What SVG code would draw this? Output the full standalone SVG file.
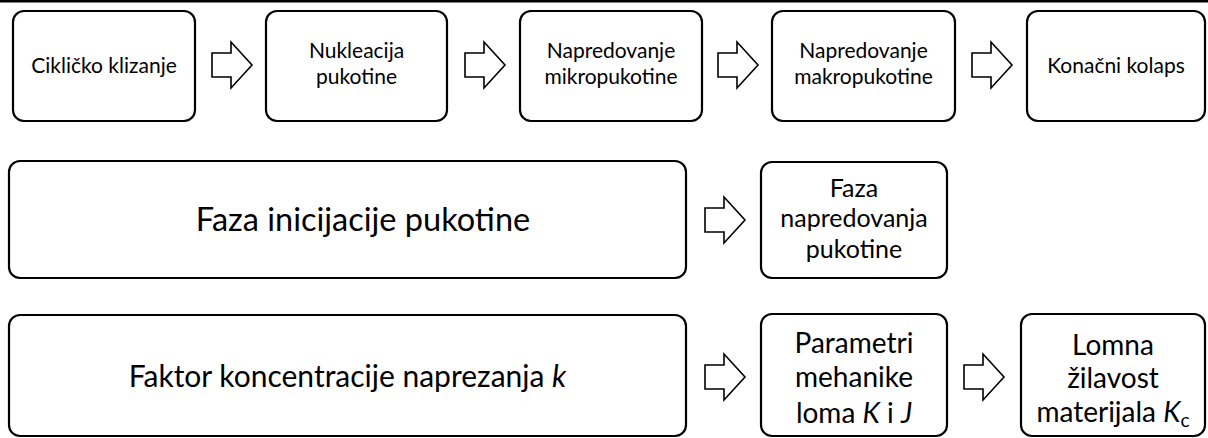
<svg xmlns="http://www.w3.org/2000/svg" width="1208" height="438" viewBox="0 0 1208 438">
<style>
.box{fill:#fff;stroke:#000;stroke-width:2.2}
.arr{fill:#fff;stroke:#000;stroke-width:1.6;stroke-linejoin:miter}
text{font-family:Lato,"Liberation Sans",sans-serif;fill:#000;text-anchor:middle}
.t1{font-size:21px}
.t2{font-size:30px}
.t3{font-size:25px}
.t4{font-size:28px}
.i{font-style:italic}
</style>
<defs>
<path id="ar" d="M0,-12 H19 V-23 L40,0 L19,23 V12 H0 Z"/>
</defs>
<rect x="0" y="0" width="1208" height="2.5" fill="#000"/>
<g id="n1"><rect class="box" x="13" y="11" width="182" height="110" rx="11"/><text class="t1" x="104" y="73">Cikličko klizanje</text></g>
<g id="n2"><rect class="box" x="266" y="11" width="181" height="110" rx="11"/><text class="t1" x="356.5" y="58">Nukleacija</text><text class="t1" x="356.5" y="84">pukotine</text></g>
<g id="n3"><rect class="box" x="520" y="11" width="182" height="110" rx="11"/><text class="t1" x="611" y="58">Napredovanje</text><text class="t1" x="611" y="84">mikropukotine</text></g>
<g id="n4"><rect class="box" x="772" y="11" width="183" height="110" rx="11"/><text class="t1" x="863.5" y="58">Napredovanje</text><text class="t1" x="863.5" y="84">makropukotine</text></g>
<g id="n5"><rect class="box" x="1027" y="11" width="178" height="110" rx="11"/><text class="t1" x="1116" y="73">Konačni kolaps</text></g>
<g id="n6"><rect class="box" x="9" y="161" width="677" height="117" rx="11"/><text x="363" y="231" font-size="32.5px">Faza inicijacije pukotine</text></g>
<g id="n7"><rect class="box" x="761" y="162" width="186" height="116" rx="11"/><text class="t3" x="854" y="197">Faza</text><text class="t3" x="854" y="227">napredovanja</text><text class="t3" x="854" y="258">pukotine</text></g>
<g id="n8"><rect class="box" x="9" y="315" width="677" height="121" rx="11"/><text class="t2" x="347.5" y="387">Faktor koncentracije naprezanja <tspan class="i">k</tspan></text></g>
<g id="n9"><rect class="box" x="761" y="314" width="186" height="122" rx="11"/><text class="t4" x="854" y="353">Parametri</text><text class="t4" x="854" y="387">mehanike</text><text class="t4" x="854" y="423">loma <tspan class="i">K</tspan> i <tspan class="i">J</tspan></text></g>
<g id="n10"><rect class="box" x="1021" y="314" width="184" height="122" rx="11"/><text class="t4" x="1113" y="355">Lomna</text><text class="t4" x="1113" y="388">žilavost</text><text class="t4" x="1113" y="422">materijala <tspan class="i">K</tspan><tspan font-size="19px" dy="5">c</tspan></text></g>
<g id="connectors">
<use href="#ar" class="arr" x="212" y="65"/>
<use href="#ar" class="arr" x="465" y="65"/>
<use href="#ar" class="arr" x="718" y="65"/>
<use href="#ar" class="arr" x="972" y="65"/>
<use href="#ar" class="arr" x="705" y="220"/>
<use href="#ar" class="arr" x="705" y="377"/>
<use href="#ar" class="arr" x="964" y="377"/>
</g>
</svg>
